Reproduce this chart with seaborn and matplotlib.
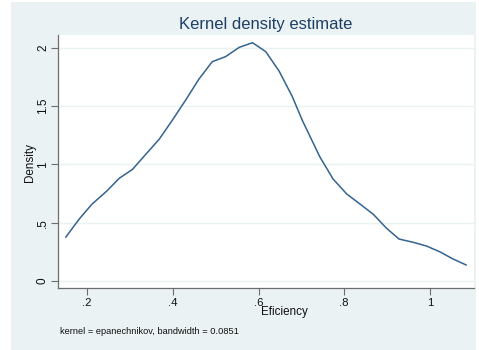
import matplotlib
matplotlib.use("Agg")
import matplotlib.pyplot as plt
import seaborn as sns
import pandas as pd
from matplotlib.patches import Rectangle

# Data
efficiency = [0.150, 0.181, 0.211, 0.246, 0.275, 0.306, 0.337, 0.368, 0.399,
              0.430, 0.461, 0.492, 0.523, 0.555, 0.586, 0.617, 0.648, 0.679,
              0.702, 0.743, 0.774, 0.806, 0.837, 0.868, 0.899, 0.928, 0.961,
              0.992, 1.023, 1.054, 1.085]
density = [0.375, 0.529, 0.658, 0.772, 0.881, 0.958, 1.087, 1.215, 1.380,
           1.552, 1.732, 1.881, 1.924, 2.004, 2.044, 1.967, 1.801, 1.581,
           1.380, 1.066, 0.875, 0.746, 0.660, 0.572, 0.452, 0.360, 0.332,
           0.300, 0.251, 0.189, 0.137]
x_ticks = [0.2, 0.4, 0.6, 0.8, 1.0]
x_ticklabels = [".2", ".4", ".6", ".8", "1"]
y_ticks = [0, 0.5, 1, 1.5, 2]
y_ticklabels = ["0", ".5", "1", "1.5", "2"]

df = pd.DataFrame({"Efficiency": efficiency, "Density": density})

sns.set_theme(style="white")
plt.rcParams['font.family'] = ['Liberation Sans', 'DejaVu Sans']

W, H = 479, 350
fig = plt.figure(figsize=(W / 100, H / 100), dpi=100, facecolor="white")
fig.patches.append(Rectangle((11 / W, 0), (476 - 11) / W, 1 - 2 / H,
                             transform=fig.transFigure, facecolor="#EAF2F3",
                             edgecolor="none", zorder=-10))
ax = fig.add_axes([58 / W, 1 - 288 / H, (474 - 58) / W, (288 - 35) / H])
ax.set_zorder(5)
ax.set_facecolor("white")

sns.lineplot(data=df, x="Efficiency", y="Density", ax=ax, color="#33638f",
             linewidth=1.1)

ax.set_xlim(0.132, 1.103)
ax.set_ylim(-0.06, 2.11)
ax.set_xticks(x_ticks)
ax.set_xticklabels(x_ticklabels)
ax.set_yticks(y_ticks)
ax.set_yticklabels(y_ticklabels, rotation=90, va="center")
for y in y_ticks:
    ax.axhline(y, color="#EAF2F3", linewidth=1.0, zorder=0)

for s in ["top", "right"]:
    ax.spines[s].set_visible(False)
for s in ["left", "bottom"]:
    ax.spines[s].set_color("#6e6e6e")
    ax.spines[s].set_linewidth(0.9)
ax.tick_params(axis="both", direction="out", length=5, width=0.8,
               color="#6e6e6e", labelcolor="#111111",
               bottom=True, left=True)
ax.tick_params(axis="x", labelsize=8.2, pad=2)
ax.tick_params(axis="y", labelsize=8.5, pad=1.5)

ax.set_xlabel("Eficiency", fontsize=8.4, color="#111111")
ax.xaxis.set_label_coords((284 - 58) / 416, (288 - 306) / 253)
ax.set_ylabel("Density", fontsize=8.4, color="#111111")
ax.yaxis.set_label_coords((36 - 58) / 416, 0.496)
fig.text((58 + 474) / 2 / W, 1 - 24 / H, "Kernel density estimate",
         ha="center", va="center", fontsize=12, color="#1e3f66")
fig.text(60 / W, 1 - 331 / H, "kernel = epanechnikov, bandwidth = 0.0851",
         ha="left", va="center", fontsize=6.7, color="#111111")

fig.savefig("out.png", dpi=100, facecolor="white")
